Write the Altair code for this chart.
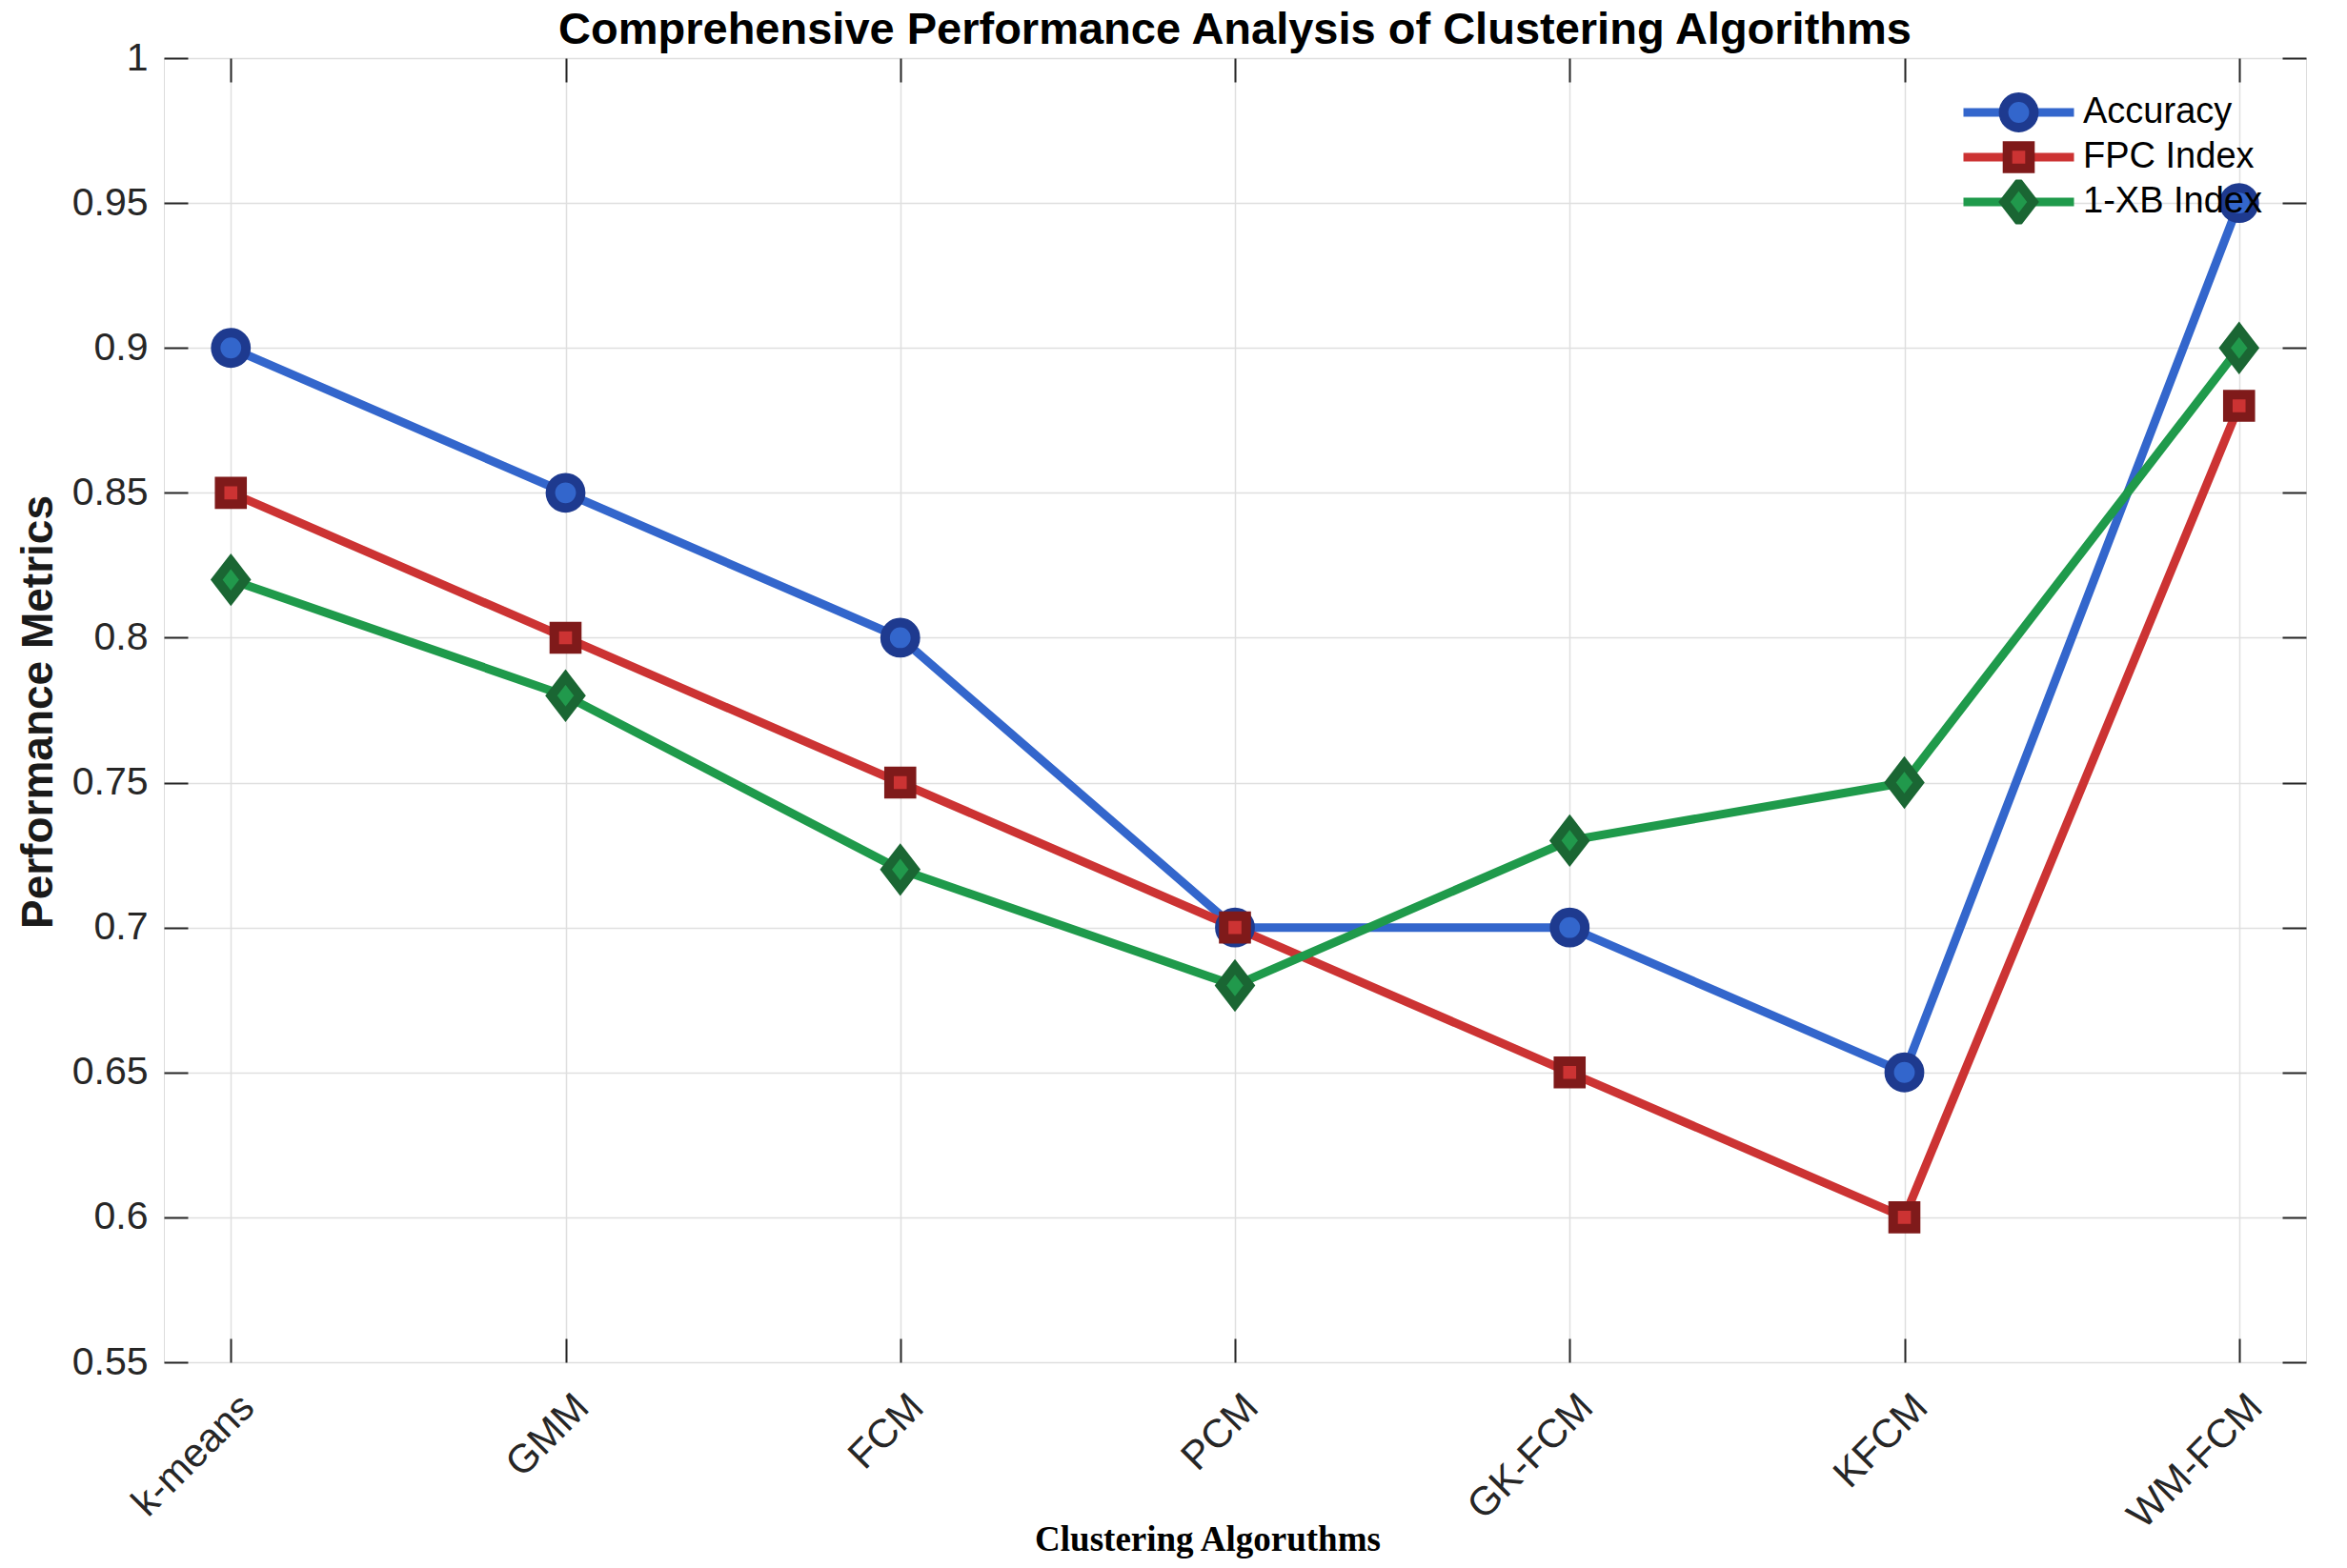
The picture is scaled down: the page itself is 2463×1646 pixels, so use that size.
import altair as alt
import pandas as pd

# ---------------- data ----------------
algorithms = ["k-means", "GMM", "FCM", "PCM", "GK-FCM", "KFCM", "WM-FCM"]
accuracy = [0.90, 0.85, 0.80, 0.70, 0.70, 0.65, 0.95]
fpc_index = [0.85, 0.80, 0.75, 0.70, 0.65, 0.60, 0.88]
xb_index = [0.82, 0.78, 0.72, 0.68, 0.73, 0.75, 0.90]
series_names = ["Accuracy", "FPC Index", "1-XB Index"]
y_ticks = [0.55, 0.6, 0.65, 0.7, 0.75, 0.8, 0.85, 0.9, 0.95, 1.0]

# ---------------- styles ----------------
line_colors = ["#3366CC", "#CC3333", "#1F9A4B"]
edge_colors = ["#1E3A8F", "#7F1A1A", "#1A6633"]
fill_colors = ["#3366CC", "#CC3333", "#21994C"]
shape_paths = [
    "M-0.816,0A0.816,0.816 0 1,0 0.816,0A0.816,0.816 0 1,0 -0.816,0Z",
    "M-0.605,-0.605H0.605V0.605H-0.605Z",
    "M0,-1L0.77,0L0,1L-0.77,0Z",
]
FONT = "Liberation Sans"
TXT = "#262626"

rows = []
for s, vals in zip(series_names, [accuracy, fpc_index, xb_index]):
    for i, (a, v) in enumerate(zip(algorithms, vals)):
        rows.append({"Algorithm": a, "Value": v, "Series": s, "idx": i})
df = pd.DataFrame(rows)

x_scale = alt.Scale(type="point", domain=algorithms, padding=0.2)
y_scale = alt.Scale(domain=[0.55, 1.0], nice=False, zero=False)

x_axis_main = alt.Axis(
    orient="bottom", labelAngle=315, labelAlign="right", labelBaseline="top",
    labelPadding=26, labelOffset=3, labelFont=FONT, labelFontSize=42,
    labelColor=TXT, labelOverlap=False, ticks=False, tickSize=0, domain=False,
    grid=True, gridColor="#DFDFDF", gridWidth=1.5,
    title="Clustering Algoruthms", titleFont="Liberation Serif",
    titleFontSize=37, titleFontWeight="bold", titleColor="#000000",
    titleX=1095, titleY=197, titleBaseline="alphabetic", titleAlign="center",
)
y_axis_main = alt.Axis(
    orient="left", values=y_ticks, format="~g", labelFont=FONT,
    labelFontSize=41, labelColor=TXT, labelPadding=17, ticks=False,
    tickSize=0, domain=False, grid=True, gridColor="#DFDFDF", gridWidth=1.5,
    title="Performance Metrics", titleFont=FONT, titleFontSize=46,
    titleFontWeight="bold", titleColor="#1A1A1A", titleAngle=270,
    titleX=-132, titleY=686, titleBaseline="middle", titleAlign="center",
)


def tick_axis(orient, values=None):
    kw = dict(orient=orient, offset=-25, ticks=True, tickSize=25, tickWidth=2,
              tickColor=TXT, labels=False, domain=False, grid=False, title=None)
    if values is not None:
        kw["values"] = values
    return alt.Axis(**kw)


line_legend = alt.Legend(
    title=None, orient="none", legendX=1884, legendY=33.5, direction="vertical",
    symbolType="stroke", symbolSize=13456, symbolStrokeWidth=9, clipHeight=47,
    rowPadding=0, padding=0, labelOpacity=0, labelFontSize=38, labelOffset=43,
    labelLimit=400, symbolOffset=0,
)
pt_legend = alt.Legend(
    title=None, orient="none", legendX=1922, legendY=33.5, direction="vertical",
    symbolSize=1521, symbolStrokeWidth=10, clipHeight=47, rowPadding=0,
    padding=0, labelFont=FONT, labelFontSize=38, labelColor="#000000",
    labelOffset=43, labelLimit=400, symbolOffset=0, symbolOpacity=1,
)

base = alt.Chart(df)

lines = base.mark_line(strokeWidth=9).encode(
    x=alt.X("Algorithm:N", scale=x_scale, axis=x_axis_main),
    y=alt.Y("Value:Q", scale=y_scale, axis=y_axis_main),
    color=alt.Color("Series:N", sort=series_names,
                    scale=alt.Scale(range=line_colors), legend=line_legend),
    order=alt.Order("idx:Q"),
)

points = base.mark_point(filled=True, size=1521, strokeWidth=10, opacity=1,
                         strokeJoin="miter").encode(
    x=alt.X("Algorithm:N", scale=x_scale, axis=None),
    y=alt.Y("Value:Q", scale=y_scale, axis=None),
    shape=alt.Shape("Series:N", scale=alt.Scale(domain=series_names, range=shape_paths),
                    legend=pt_legend),
    fill=alt.Fill("Series:N", scale=alt.Scale(domain=series_names, range=fill_colors),
                  legend=pt_legend),
    stroke=alt.Stroke("Series:N", scale=alt.Scale(domain=series_names, range=edge_colors),
                      legend=pt_legend),
)

ticks_a = base.mark_point(opacity=0).encode(
    x=alt.X("Algorithm:N", scale=x_scale, axis=tick_axis("bottom")),
    y=alt.Y("Value:Q", scale=y_scale, axis=tick_axis("left", y_ticks)),
)
ticks_b = base.mark_point(opacity=0).encode(
    x=alt.X("Algorithm:N", scale=x_scale, axis=tick_axis("top")),
    y=alt.Y("Value:Q", scale=y_scale, axis=tick_axis("right", y_ticks)),
)

chart = alt.layer(lines, points, ticks_a, ticks_b).resolve_axis(
    x="independent", y="independent"
).properties(
    width=2248,
    height=1369,
    autosize=alt.AutoSizeParams(type="none"),
    padding={"left": 164, "top": 53, "right": 30, "bottom": 210},
    title=alt.Title(
        text="Comprehensive Performance Analysis of Clustering Algorithms",
        font=FONT, fontSize=47, fontWeight="bold", color="#000000",
        anchor="middle", frame="group", baseline="alphabetic", offset=0, dy=53,
    ),
).configure_view(stroke=TXT, strokeWidth=2).configure(background="white")

chart.save("out.html", embed_options={"renderer": "svg", "actions": False})
